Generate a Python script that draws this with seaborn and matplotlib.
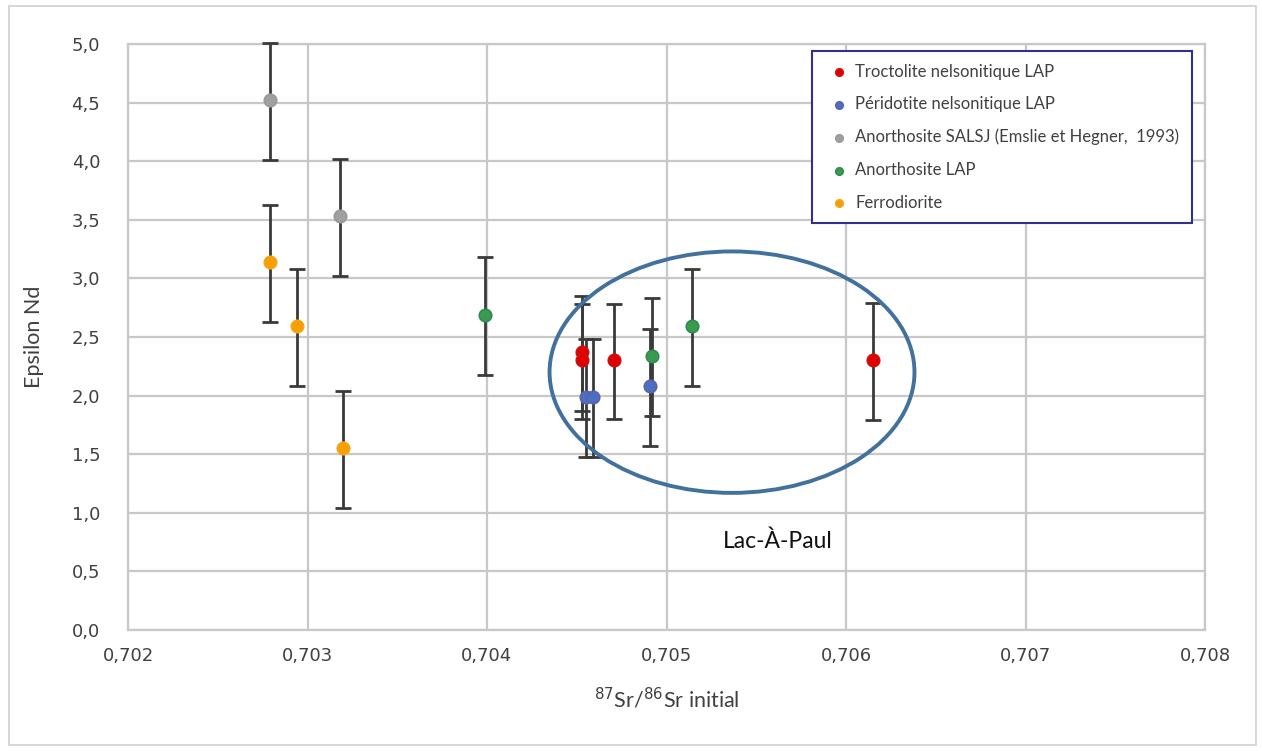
#!/usr/bin/env python
from matplotlib import pyplot as plt
from matplotlib.patches import Ellipse, Rectangle
from matplotlib.ticker import FuncFormatter, MultipleLocator
import pandas as pd
import seaborn as sns

# values
troc_x = [0.70453, 0.70453, 0.70471, 0.70615]
troc_y = [2.37, 2.30, 2.30, 2.30]
troc_err = [0.49, 0.49, 0.49, 0.50]

perid_x = [0.70455, 0.70459, 0.70491]
perid_y = [1.99, 1.99, 2.08]
perid_err = [0.50, 0.50, 0.50]

salsj_x = [0.70279, 0.70318]
salsj_y = [4.52, 3.53]
salsj_err = [0.50, 0.50]

anlap_x = [0.70399, 0.70492, 0.70514]
anlap_y = [2.69, 2.34, 2.59]
anlap_err = [0.50, 0.50, 0.50]

ferro_x = [0.70279, 0.70294, 0.70320]
ferro_y = [3.14, 2.59, 1.55]
ferro_err = [0.50, 0.50, 0.50]

labels = ["Troctolite nelsonitique LAP",
          "Péridotite nelsonitique LAP",
          "Anorthosite SALSJ (Emslie et Hegner,  1993)",
          "Anorthosite LAP",
          "Ferrodiorite"]
colors = ["#E00000", "#4A6FC4", "#A0A0A0", "#3A9A4E", "#F5A000"]
edges = ["#D01010", "#5E63A8", "#9A9A9A", "#2F8B55", "#F7A51A"]

xs = [troc_x, perid_x, salsj_x, anlap_x, ferro_x]
ys = [troc_y, perid_y, salsj_y, anlap_y, ferro_y]
errs = [troc_err, perid_err, salsj_err, anlap_err, ferro_err]

df = pd.concat([pd.DataFrame({"sr": x, "eps": y, "err": e, "groupe": lab})
                for x, y, e, lab in zip(xs, ys, errs, labels)], ignore_index=True)

sns.set_style("whitegrid")
plt.rcParams['font.family'] = ['DejaVu Sans']

fig = plt.figure(figsize=(12.62, 7.51), dpi=100)
ax = fig.add_axes([128/1262, 1-630/751, 1077/1262, 586/751])

# outer chart frame
fig.patches.append(Rectangle((9/1262, 6/751), 1247/1262, 739/751, transform=fig.transFigure,
                             fill=False, edgecolor="#D0D0D0", linewidth=1.2))

bars = ax.errorbar(df["sr"], df["eps"] - 0.01, yerr=df["err"], fmt="none", ecolor="#3A3A3A",
                   elinewidth=2.0, capsize=5.5, capthick=2.0, zorder=3)
for art in bars.get_children():
    art.set_clip_on(False)

for lab, c, ec in zip(labels, colors, edges):
    sns.scatterplot(data=df[df["groupe"] == lab], x="sr", y="eps", color=c,
                    edgecolor=ec, linewidth=1.2, s=80, label=lab, ax=ax, zorder=4)

ax.add_patch(Ellipse((0.705365, 2.20), 0.002033, 2.06, fill=False,
                     edgecolor="#41719C", linewidth=2.8, zorder=5))
ax.text(0.705621, 0.76, "Lac-À-Paul", fontsize=16.5, family="Lato", color="#111111",
        ha="center", va="center")

ax.set_xlim(0.702, 0.708)
ax.set_ylim(0, 5)
ax.xaxis.set_major_locator(MultipleLocator(0.001))
ax.yaxis.set_major_locator(MultipleLocator(0.5))
ax.xaxis.set_major_formatter(FuncFormatter(lambda v, p: f"{v:.3f}".replace(".", ",")))
ax.yaxis.set_major_formatter(FuncFormatter(lambda v, p: f"{v:.1f}".replace(".", ",")))
ax.tick_params(axis="x", labelsize=13, colors="#404040", pad=12, length=0)
ax.tick_params(axis="y", labelsize=13, colors="#404040", pad=20, length=0)
ax.grid(True, color="#C8C8C8", linewidth=1.6)
for sp in ax.spines.values():
    sp.set_color("#C8C8C8")
    sp.set_linewidth(1.6)

ax.set_xlabel("$^{87}$Sr/$^{86}$Sr initial", fontsize=15.5, family="Lato", color="#404040", labelpad=16)
ax.set_ylabel("Epsilon Nd", fontsize=15.5, family="Lato", color="#404040", labelpad=20)

leg = ax.legend(loc="upper left", bbox_to_anchor=(0.635, 0.988), borderaxespad=0,
                markerscale=0.6, labelspacing=1.0, handletextpad=0.15,
                handlelength=1.7, borderpad=0.75, frameon=True, fancybox=False,
                prop={"family": "Lato", "size": 12})
leg.get_frame().set_edgecolor("#2E3192")
leg.get_frame().set_linewidth(1.5)
leg.get_frame().set_alpha(1)
for t in leg.get_texts():
    t.set_color("#404040")

fig.savefig("out.png", dpi=100)
